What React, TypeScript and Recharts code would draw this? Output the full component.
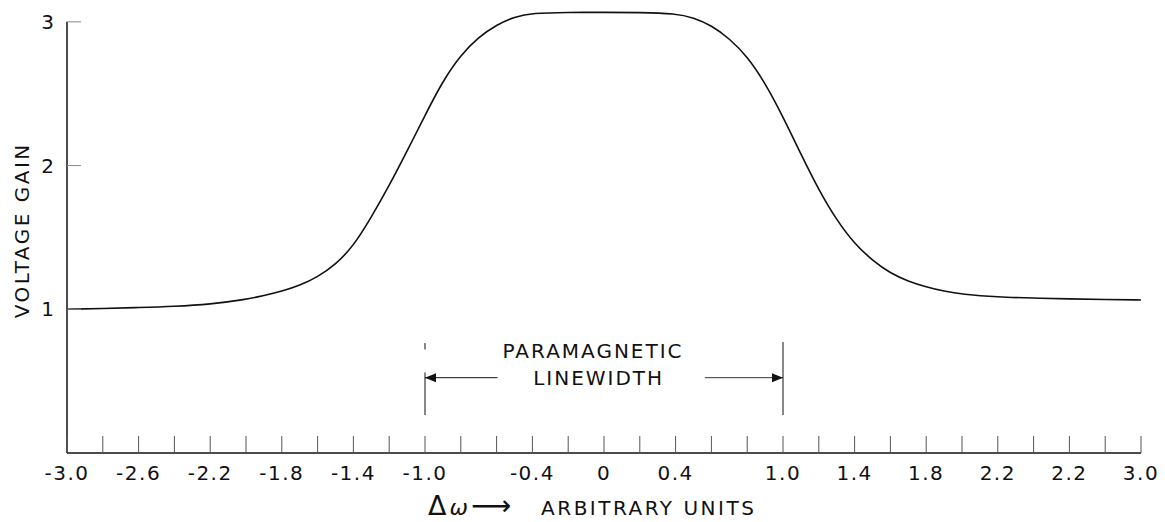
import { LineChart, Line, XAxis, YAxis, ReferenceLine, ReferenceDot, Label } from "recharts";

// frequency offset (arbitrary units) and voltage gain
const deltaOmega = [
  -3.0, -2.8, -2.6, -2.4, -2.2, -2.0, -1.9, -1.8, -1.7, -1.6, -1.5, -1.4, -1.3, -1.2, -1.1, -1.0,
  -0.9, -0.8, -0.7, -0.6, -0.5, -0.4, -0.2, 0, 0.2, 0.4, 0.5, 0.6, 0.7, 0.8, 0.9, 1.0,
  1.1, 1.2, 1.3, 1.4, 1.5, 1.6, 1.7, 1.8, 1.9, 2.0, 2.2, 2.4, 2.6, 2.8, 3.0,
];
const voltageGain = [
  1.0, 1.005, 1.012, 1.02, 1.035, 1.068, 1.095, 1.125, 1.165, 1.225, 1.31, 1.44, 1.64, 1.86, 2.1, 2.35,
  2.59, 2.77, 2.895, 2.98, 3.035, 3.062, 3.066, 3.066, 3.066, 3.058, 3.03, 2.975, 2.885, 2.76, 2.575, 2.34,
  2.08, 1.83, 1.62, 1.455, 1.34, 1.25, 1.195, 1.155, 1.125, 1.105, 1.085, 1.078, 1.072, 1.068, 1.065,
];

const xTicks = [
  -3.0, -2.8, -2.6, -2.4, -2.2, -2.0, -1.8, -1.6, -1.4, -1.2, -1.0, -0.8, -0.6, -0.4, -0.2, 0,
  0.2, 0.4, 0.6, 0.8, 1.0, 1.2, 1.4, 1.6, 1.8, 2.0, 2.2, 2.4, 2.6, 2.8, 3.0,
];
// labelled ticks (the original prints "2.2" twice)
const xLabelValues = [-3.0, -2.6, -2.2, -1.8, -1.4, -1.0, -0.4, 0, 0.4, 1.0, 1.4, 1.8, 2.2, 2.6, 3.0];
const xLabelTexts = ["-3.0", "-2.6", "-2.2", "-1.8", "-1.4", "-1.0", "-0.4", "0", "0.4", "1.0", "1.4", "1.8", "2.2", "2.2", "3.0"];
const yTicks = [1, 2, 3];

const data = deltaOmega.map((x, i) => ({ x, gain: voltageGain[i] }));

const FONT = "'DejaVu Sans', sans-serif";
const INK = "#111";

function XTick({ x, y, payload }: any) {
  const idx = xLabelValues.findIndex((v) => Math.abs(v - payload.value) < 1e-6);
  return (
    <g>
      <line x1={x} y1={y} x2={x} y2={y - 17} stroke="#555" strokeWidth={1} />
      {idx >= 0 && (
        <text x={x} y={y + 27} textAnchor="middle" fontFamily={FONT} fontSize={20} fill={INK} letterSpacing={1.5}>
          {xLabelTexts[idx]}
        </text>
      )}
    </g>
  );
}

function YTick({ x, y, payload }: any) {
  return (
    <g>
      <line x1={x} y1={y} x2={x + 14} y2={y} stroke="#888" strokeWidth={1} />
      <text x={x - 13} y={y} dy={7} textAnchor="end" fontFamily={FONT} fontSize={20} fill={INK}>
        {payload.value}
      </text>
    </g>
  );
}

function ArrowHead({ cx, cy, dir }: any) {
  const p = dir < 0
    ? `${cx},${cy} ${cx + 11},${cy - 4.5} ${cx + 11},${cy + 4.5}`
    : `${cx},${cy} ${cx - 11},${cy - 4.5} ${cx - 11},${cy + 4.5}`;
  return <polygon points={p} fill={INK} />;
}

function Note({ cx, cy, text }: any) {
  return (
    <text x={cx} y={cy} dy={7} textAnchor="middle" fontFamily={FONT} fontSize={20} fill={INK} letterSpacing={2}>
      {text}
    </text>
  );
}

function XTitle({ viewBox }: any) {
  const left = viewBox.x + viewBox.width / 2 - 176;
  return (
    <text x={left} y={viewBox.y + 62} textAnchor="start" fontFamily={FONT} fontSize={20} fill={INK}>
      <tspan fontSize={27}>Δ</tspan>
      <tspan dx={3} fontStyle="italic" fontSize={22}>ω</tspan>
      <tspan dx={3} fontSize={28}>⟶</tspan>
      <tspan dx={30} letterSpacing={2.5}>ARBITRARY UNITS</tspan>
    </text>
  );
}

export default function App() {
  return (
    <div style={{ position: "absolute", left: 0, top: 0, background: "#fff" }}>
      <LineChart width={1165} height={522} data={data} margin={{ top: 7.5, right: 24, bottom: 0, left: 0 }}>
        <XAxis
          dataKey="x"
          type="number"
          domain={[-3, 3]}
          ticks={xTicks}
          interval={0}
          tickSize={0}
          tickMargin={0}
          tick={<XTick />}
          height={69}
          axisLine={{ stroke: INK, strokeWidth: 1.5 }}
        >
          <Label content={<XTitle />} />
        </XAxis>
        <YAxis
          type="number"
          domain={[0, 3.1]}
          ticks={yTicks}
          interval={0}
          width={67}
          tickSize={0}
          tickMargin={0}
          tick={<YTick />}
          axisLine={false}
        >
          <Label
            value="VOLTAGE GAIN"
            angle={-90}
            position="insideLeft"
            offset={22}
            style={{ fontFamily: FONT, fontSize: 20, fill: INK, letterSpacing: 2.5, textAnchor: "middle" }}
          />
        </YAxis>
        <ReferenceLine segment={[{ x: -3, y: 0 }, { x: -3, y: 3 }]} stroke={INK} strokeWidth={1.5} />

        {/* paramagnetic linewidth marker */}
        <ReferenceLine segment={[{ x: -1.0, y: 0.264 }, { x: -1.0, y: 0.56 }]} stroke={INK} strokeWidth={1} />
        <ReferenceLine segment={[{ x: -1.0, y: 0.72 }, { x: -1.0, y: 0.765 }]} stroke={INK} strokeWidth={1} />
        <ReferenceLine segment={[{ x: 1.0, y: 0.264 }, { x: 1.0, y: 0.772 }]} stroke={INK} strokeWidth={1} />
        <ReferenceLine segment={[{ x: -1.0, y: 0.524 }, { x: -0.595, y: 0.524 }]} stroke={INK} strokeWidth={1} />
        <ReferenceLine segment={[{ x: 0.563, y: 0.524 }, { x: 1.0, y: 0.524 }]} stroke="#333" strokeWidth={1} />
        <ReferenceDot x={-1.0} y={0.524} shape={(p: any) => <ArrowHead {...p} dir={-1} />} />
        <ReferenceDot x={1.0} y={0.524} shape={(p: any) => <ArrowHead {...p} dir={1} />} />
        <ReferenceDot x={-0.061} y={0.713} shape={(p: any) => <Note {...p} text="PARAMAGNETIC" />} />
        <ReferenceDot x={-0.03} y={0.525} shape={(p: any) => <Note {...p} text="LINEWIDTH" />} />

        <Line
          type="basis"
          dataKey="gain"
          stroke={INK}
          strokeWidth={1.6}
          dot={false}
          isAnimationActive={false}
        />
      </LineChart>
    </div>
  );
}
